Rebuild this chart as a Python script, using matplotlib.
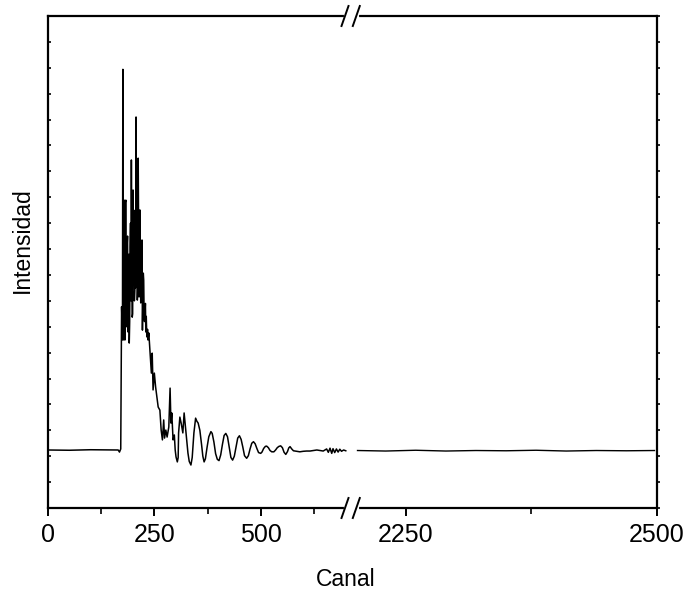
import matplotlib
matplotlib.use("Agg")
import matplotlib.pyplot as plt
from matplotlib.lines import Line2D
from matplotlib.ticker import MultipleLocator, FixedLocator, NullFormatter

plt.rcParams['font.family'] = ['Liberation Sans', 'DejaVu Sans']

# spectrum: channel vs intensity (arbitrary units)
canal_izq = [0, 50, 100, 150, 165, 168, 171, 173, 175, 176, 177, 178, 179, 180, 181,
             182, 183, 184, 185, 186, 187, 188, 189, 190, 191, 192, 193, 194, 195,
             196, 197, 198, 199, 200, 201, 202, 203, 204, 205, 206, 207, 208, 209,
             210, 211, 212, 213, 214, 215, 216, 217, 218, 219, 220, 221, 222, 223,
             224, 225, 226, 227, 228, 229, 230, 231, 232, 233, 234, 235, 237, 239,
             241, 243, 245, 247, 250, 253, 259, 263, 266, 269, 272, 274, 277, 280,
             284, 287, 289, 291, 294, 297, 299, 301, 304, 306, 307, 310, 313, 317,
             320, 324, 329, 332, 336, 339, 343, 347, 350, 353, 357, 361, 364, 367,
             370, 374, 378, 383, 386, 390, 394, 398, 402, 406, 410, 414, 418, 422,
             426, 430, 434, 438, 442, 446, 450, 454, 458, 462, 467, 471, 475, 479,
             483, 487, 491, 495, 500, 503, 507, 511, 514, 518, 522, 526, 531, 535,
             539, 543, 547, 551, 555, 559, 563, 566, 569, 573, 577, 584, 592, 600,
             608, 616, 624, 632, 640, 647, 655, 659, 663, 667, 670, 674, 678, 682,
             686, 690, 695, 700]
intensidad_izq = [2.24, 2.23, 2.25, 2.24, 2.24, 2.16, 2.28, 7.77, 6.49, 16.94, 9.96,
                  6.49, 11.89, 6.60, 6.49, 11.80, 11.89, 7.92, 7.00, 10.15, 10.50,
                  6.80, 7.92, 9.80, 6.37, 7.20, 10.08, 11.00, 8.00, 13.44, 9.50, 7.37,
                  7.50, 12.28, 9.07, 11.50, 8.00, 8.42, 10.80, 8.50, 15.10, 10.08,
                  12.00, 8.03, 8.80, 13.51, 10.50, 8.15, 8.30, 11.51, 10.00, 7.92,
                  8.40, 9.50, 10.35, 6.87, 8.00, 9.07, 8.80, 7.37, 7.20, 7.53, 7.90,
                  6.80, 7.40, 6.76, 6.60, 6.90, 6.49, 6.76, 6.22, 5.71, 5.21, 5.98,
                  4.56, 5.21, 4.67, 3.90, 3.78, 3.01, 2.63, 3.40, 2.70, 3.01, 2.74,
                  3.13, 4.63, 3.28, 3.67, 2.63, 2.82, 2.24, 1.97, 1.78, 1.95, 2.90,
                  3.51, 3.28, 2.90, 3.67, 3.00, 2.12, 1.80, 1.66, 1.95, 2.90, 3.47,
                  3.35, 3.28, 3.00, 2.45, 2.00, 1.78, 1.90, 2.35, 2.75, 2.95, 2.88,
                  2.55, 2.10, 1.88, 1.83, 2.05, 2.45, 2.80, 2.88, 2.75, 2.35, 1.95,
                  1.85, 2.00, 2.35, 2.70, 2.79, 2.65, 2.35, 2.02, 1.92, 2.02, 2.28,
                  2.50, 2.56, 2.48, 2.30, 2.14, 2.11, 2.16, 2.30, 2.38, 2.39, 2.33,
                  2.22, 2.17, 2.17, 2.24, 2.33, 2.38, 2.40, 2.33, 2.15, 2.07, 2.18,
                  2.32, 2.37, 2.28, 2.21, 2.19, 2.17, 2.19, 2.20, 2.20, 2.22, 2.24,
                  2.22, 2.20, 2.28, 2.15, 2.31, 2.11, 2.29, 2.14, 2.28, 2.16, 2.27,
                  2.19, 2.24, 2.21]
canal_der = [2202, 2230, 2260, 2290, 2320, 2350, 2380, 2410, 2440, 2470, 2498]
intensidad_der = [2.22, 2.20, 2.23, 2.20, 2.22, 2.21, 2.23, 2.20, 2.22, 2.21, 2.22]

W, H = 693, 596
fig = plt.figure(figsize=(W / 100, H / 100), dpi=100)

x0, xb, x1 = 48, 351, 656.5
y_top, y_bot = 16, 508
bottom = 1 - y_bot / H
height = (y_bot - y_top) / H
ax1 = fig.add_axes([x0 / W, bottom, (xb - x0) / W, height])
ax2 = fig.add_axes([xb / W, bottom, (x1 - xb) / W, height])

ax1.plot(canal_izq, intensidad_izq, color='black', lw=1.1)
ax2.plot(canal_der, intensidad_der, color='black', lw=1.0)

ax1.set_xlim(0, 712.3)
ax2.set_xlim(2195.5, 2500)
for ax in (ax1, ax2):
    ax.set_ylim(0, 19)
    for s in ax.spines.values():
        s.set_linewidth(1.6)
ax1.spines['right'].set_visible(False)
ax2.spines['left'].set_visible(False)

# x ticks
ax1.xaxis.set_major_locator(FixedLocator([0, 250, 500]))
ax1.xaxis.set_minor_locator(FixedLocator([125, 375, 625]))
ax2.xaxis.set_major_locator(FixedLocator([2250, 2500]))
ax2.xaxis.set_minor_locator(FixedLocator([2375]))
for ax in (ax1, ax2):
    ax.tick_params(axis='x', which='major', direction='out', length=6, width=1.4,
                   labelsize=18, pad=5)
    ax.tick_params(axis='x', which='minor', direction='out', length=4, width=1.2)

# y ticks: no labels, small marks
ax1.yaxis.set_major_locator(MultipleLocator(1))
ax1.yaxis.set_major_formatter(NullFormatter())
ax1.tick_params(axis='y', direction='in', length=2.5, width=1.2, left=True, right=False)
ax2.yaxis.set_major_locator(MultipleLocator(1))
ax2.yaxis.set_major_formatter(NullFormatter())
ax2.tick_params(axis='y', direction='out', length=2.5, width=1.2, left=False, right=True)

fig.text(22.5 / W, 1 - 240 / H, 'Intensidad', fontsize=16.5, rotation=90,
         ha='center', va='center')
fig.text(346 / W, 1 - 580 / H, 'Canal', fontsize=16.5, ha='center', va='center')

# axis break marks
def px(x, y):
    return x / W, 1 - y / H

for yb in (y_top, y_bot):
    gx, gy = zip(px(345.5, yb), px(357, yb))
    fig.add_artist(Line2D(gx, gy, color='white', lw=3, zorder=10))
    for cx in (345, 356.3):
        sx, sy = zip(px(cx - 3.5, yb + 10), px(cx + 3.5, yb - 10))
        fig.add_artist(Line2D(sx, sy, color='black', lw=1.4, zorder=11))

fig.savefig('out.png', dpi=100)
